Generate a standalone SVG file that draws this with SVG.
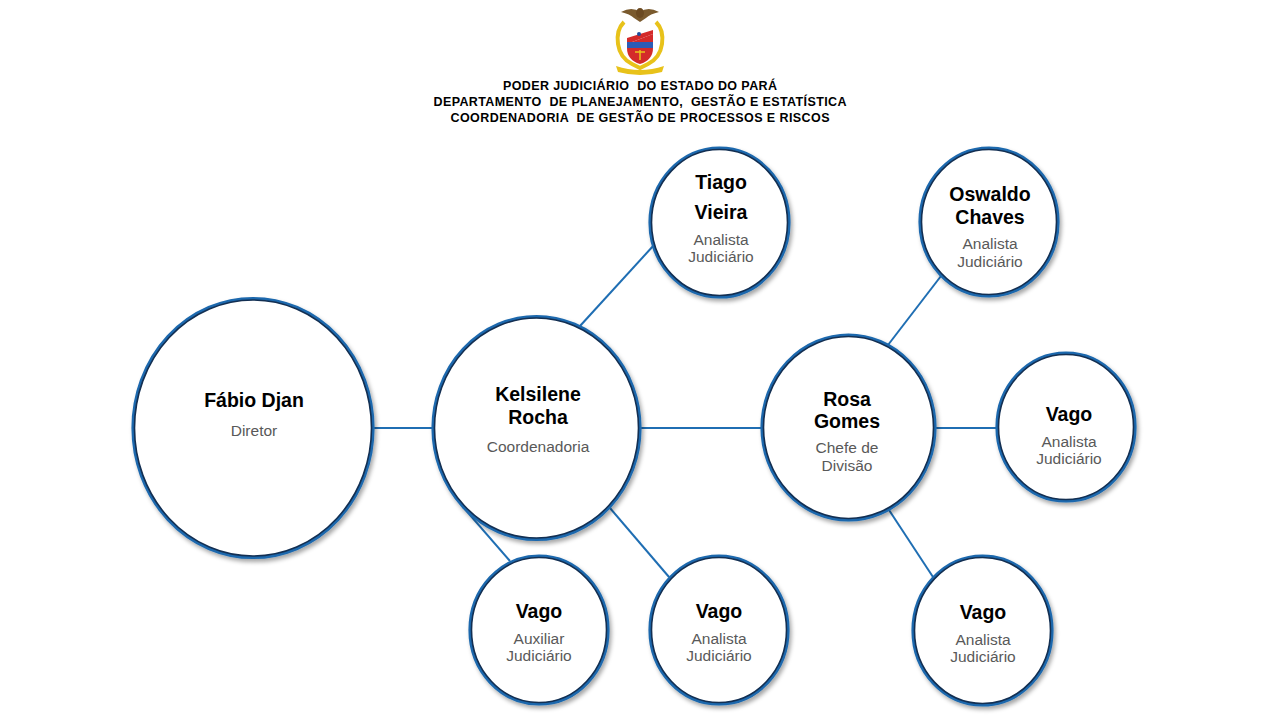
<svg xmlns="http://www.w3.org/2000/svg" width="1280" height="720" viewBox="0 0 1280 720">
<defs>
<filter id="sh" x="-20%" y="-20%" width="140%" height="140%">
<feDropShadow dx="2" dy="3" stdDeviation="2" flood-color="#000" flood-opacity="0.35"/>
</filter>
<style>
.ring{fill:#fff;stroke:#1C68AD;stroke-width:3.2;filter:url(#sh)}
.inner{fill:none;stroke:#132F52;stroke-width:1.6}
.conn{stroke:#1F6EB3;stroke-width:2;fill:none}
.nm{font-family:"Liberation Sans",Arial,sans-serif;font-weight:bold;font-size:19.5px;fill:#000;text-anchor:middle}
.sub{font-family:"Liberation Sans",Arial,sans-serif;font-size:15.5px;fill:#595959;text-anchor:middle}
.hd{font-family:"Liberation Sans",Arial,sans-serif;font-weight:bold;font-size:12.5px;fill:#000;text-anchor:middle;white-space:pre}
</style>
</defs>
<rect width="1280" height="720" fill="#fff"/>

<g id="logo">
<path d="M621 12 Q632 6 640 12 Q648 6 659 12 Q650 14 646 18 L640 22 L634 18 Q630 14 621 12Z" fill="#7A5A2E"/>
<ellipse cx="640" cy="13" rx="4" ry="5" fill="#6B4A22"/>
<path d="M624 22 Q616 30 618 44 Q620 58 632 64 L640 68 L648 64 Q660 58 662 44 Q664 30 656 22" fill="none" stroke="#E8C21A" stroke-width="4"/>
<path d="M627 26 L653 26 L653 48 Q653 60 640 64 Q627 60 627 48Z" fill="#D42A2A"/>
<path d="M627 26 L653 26 L653 34 L627 44Z" fill="#fff"/>
<path d="M627 38 L653 30 L653 34 L627 44Z" fill="#D42A2A"/>
<circle cx="639" cy="34" r="2" fill="#1F4E9E"/>
<rect x="627" y="42" width="26" height="6" fill="#2C5BB5"/>
<path d="M635 52 L645 52 M640 50 L640 60" stroke="#E8C21A" stroke-width="1.5"/>
<path d="M616 66 Q640 74 664 66 L662 72 Q640 78 618 72Z" fill="#E8C21A"/>
</g>

<g id="header">
<text class="hd" xml:space="preserve" x="640" y="89.5" textLength="274" lengthAdjust="spacing">PODER JUDICIÁRIO  DO ESTADO DO PARÁ</text>
<text class="hd" xml:space="preserve" x="640" y="105.5" textLength="413" lengthAdjust="spacing">DEPARTAMENTO  DE PLANEJAMENTO,  GESTÃO E ESTATÍSTICA</text>
<text class="hd" xml:space="preserve" x="640" y="121.5" textLength="379" lengthAdjust="spacing">COORDENADORIA  DE GESTÃO DE PROCESSOS E RISCOS</text>
</g>

<g id="connectors">
<line class="conn" x1="373" y1="428" x2="434" y2="428"/>
<line class="conn" x1="639" y1="428" x2="763" y2="428"/>
<line class="conn" x1="934" y1="428" x2="998" y2="428"/>
<line class="conn" x1="580" y1="326" x2="654" y2="245"/>
<line class="conn" x1="463" y1="507" x2="510" y2="561"/>
<line class="conn" x1="610" y1="508" x2="669" y2="577"/>
<line class="conn" x1="888" y1="345" x2="941" y2="276"/>
<line class="conn" x1="889" y1="510" x2="933" y2="577"/>
</g>

<g id="n-fabio">
<ellipse class="ring" cx="253" cy="428" rx="120" ry="129.5"/>
<ellipse class="inner" cx="253" cy="428" rx="118.5" ry="128"/>
<text class="nm" x="254" y="407">Fábio Djan</text>
<text class="sub" x="254" y="436">Diretor</text>
</g>

<g id="n-kelsilene">
<ellipse class="ring" cx="536.5" cy="428" rx="103.5" ry="111.5"/>
<ellipse class="inner" cx="536.5" cy="428" rx="102" ry="110"/>
<text class="nm" x="538" y="401">Kelsilene</text>
<text class="nm" x="538" y="424">Rocha</text>
<text class="sub" x="538" y="452">Coordenadoria</text>
</g>

<g id="n-rosa">
<ellipse class="ring" cx="848.5" cy="427.5" rx="86.5" ry="92.5"/>
<ellipse class="inner" cx="848.5" cy="427.5" rx="85" ry="91"/>
<text class="nm" x="847" y="406">Rosa</text>
<text class="nm" x="847" y="428">Gomes</text>
<text class="sub" x="847" y="453">Chefe de</text>
<text class="sub" x="847" y="471">Divisão</text>
</g>

<g id="n-tiago">
<ellipse class="ring" cx="719.5" cy="222.5" rx="69.5" ry="74.5"/>
<ellipse class="inner" cx="719.5" cy="222.5" rx="68" ry="73"/>
<text class="nm" x="721" y="189">Tiago</text>
<text class="nm" x="721" y="219">Vieira</text>
<text class="sub" x="721" y="245">Analista</text>
<text class="sub" x="721" y="262">Judiciário</text>
</g>

<g id="n-oswaldo">
<ellipse class="ring" cx="989" cy="222" rx="69" ry="74"/>
<ellipse class="inner" cx="989" cy="222" rx="67.5" ry="72.5"/>
<text class="nm" x="990" y="201">Oswaldo</text>
<text class="nm" x="990" y="224">Chaves</text>
<text class="sub" x="990" y="249">Analista</text>
<text class="sub" x="990" y="267">Judiciário</text>
</g>

<g id="n-vago-right">
<ellipse class="ring" cx="1066" cy="427" rx="69" ry="74"/>
<ellipse class="inner" cx="1066" cy="427" rx="67.5" ry="72.5"/>
<text class="nm" x="1069" y="421">Vago</text>
<text class="sub" x="1069" y="447">Analista</text>
<text class="sub" x="1069" y="464">Judiciário</text>
</g>

<g id="n-vago-aux">
<ellipse class="ring" cx="539" cy="630" rx="69" ry="74"/>
<ellipse class="inner" cx="539" cy="630" rx="67.5" ry="72.5"/>
<text class="nm" x="539" y="618">Vago</text>
<text class="sub" x="539" y="644">Auxiliar</text>
<text class="sub" x="539" y="661">Judiciário</text>
</g>

<g id="n-vago-analista">
<ellipse class="ring" cx="719" cy="630" rx="69" ry="74"/>
<ellipse class="inner" cx="719" cy="630" rx="67.5" ry="72.5"/>
<text class="nm" x="719" y="618">Vago</text>
<text class="sub" x="719" y="644">Analista</text>
<text class="sub" x="719" y="661">Judiciário</text>
</g>

<g id="n-vago-bottom">
<ellipse class="ring" cx="982.5" cy="630.5" rx="69.5" ry="74.5"/>
<ellipse class="inner" cx="982.5" cy="630.5" rx="68" ry="73"/>
<text class="nm" x="983" y="619">Vago</text>
<text class="sub" x="983" y="645">Analista</text>
<text class="sub" x="983" y="662">Judiciário</text>
</g>
</svg>
